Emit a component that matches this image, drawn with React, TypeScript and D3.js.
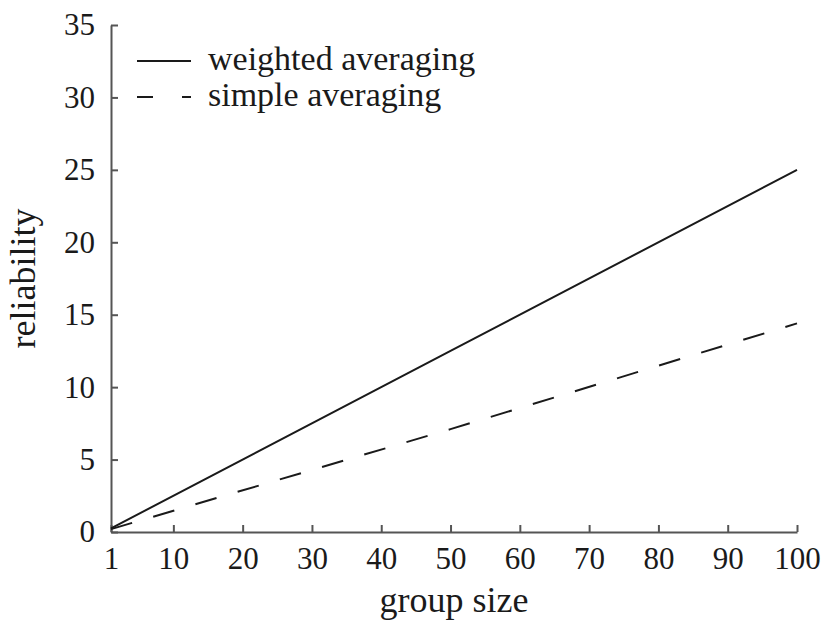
import React, { useRef, useEffect } from 'react';
import * as d3 from 'd3';

// values
const groupSize = [1, 50, 100];
const weightedAveraging = [0.25, 12.5, 25];
const simpleAveraging = [0.2, 7.1, 14.4];
const xTicks = [1, 10, 20, 30, 40, 50, 60, 70, 80, 90, 100];
const yTicks = [0, 5, 10, 15, 20, 25, 30, 35];
const legendLabels = ['weighted averaging', 'simple averaging'];

const W = 824;
const H = 623;
const FONT = '"Liberation Serif", "Times New Roman", serif';

const App = () => {
  const svgRef = useRef<SVGSVGElement>(null);

  useEffect(() => {
    const svg = d3.select(svgRef.current);
    svg.selectAll('*').remove();

    const x = d3.scaleLinear().domain([1, 100]).range([111, 797]);
    const y = d3.scaleLinear().domain([0, 35]).range([532, 25]);
    const axisColor = '#555';
    const lineColor = '#1a1a1a';

    // axes (ticks point inward)
    const xAxis = svg.append('g').attr('transform', `translate(0,${y(0)})`)
      .call(d3.axisBottom(x).tickValues(xTicks).tickSizeInner(-7).tickSizeOuter(0).tickPadding(15));
    const yAxis = svg.append('g').attr('transform', `translate(${x(1)},0)`)
      .call(d3.axisLeft(y).tickValues(yTicks).tickSizeInner(-7).tickSizeOuter(0).tickPadding(16));

    [xAxis, yAxis].forEach((g) => {
      g.select('.domain').attr('stroke', axisColor).attr('stroke-width', 2);
      g.selectAll('.tick line').attr('stroke', axisColor).attr('stroke-width', 2);
      g.selectAll('.tick text')
        .attr('fill', '#1a1a1a')
        .style('font-family', FONT)
        .style('font-size', '31px');
    });
    xAxis.selectAll('.tick text').attr('dy', '0.71em');

    const idx = d3.range(groupSize.length);
    const line = (vals: number[]) =>
      d3.line<number>().x((i) => x(groupSize[i])).y((i) => y(vals[i]))(idx);

    svg.append('path')
      .attr('d', line(weightedAveraging))
      .attr('fill', 'none')
      .attr('stroke', lineColor)
      .attr('stroke-width', 2);

    svg.append('path')
      .attr('d', line(simpleAveraging))
      .attr('fill', 'none')
      .attr('stroke', lineColor)
      .attr('stroke-width', 2)
      .attr('stroke-dasharray', '22,22');

    // legend
    const legendY = [61, 97];
    legendLabels.forEach((label, i) => {
      svg.append('line')
        .attr('x1', 137).attr('x2', 191)
        .attr('y1', legendY[i]).attr('y2', legendY[i])
        .attr('stroke', lineColor)
        .attr('stroke-width', 2)
        .attr('stroke-dasharray', i === 1 ? '16,29' : null);
      svg.append('text')
        .attr('x', 208)
        .attr('y', legendY[i] + 9)
        .attr('fill', '#1a1a1a')
        .style('font-family', FONT)
        .style('font-size', '34px')
        .text(label);
    });

    // axis titles
    svg.append('text')
      .attr('x', (x(1) + x(100)) / 2)
      .attr('y', 612)
      .attr('text-anchor', 'middle')
      .attr('fill', '#1a1a1a')
      .style('font-family', FONT)
      .style('font-size', '36px')
      .text('group size');

    svg.append('text')
      .attr('transform', `translate(35,${(y(0) + y(35)) / 2}) rotate(-90)`)
      .attr('text-anchor', 'middle')
      .attr('fill', '#1a1a1a')
      .style('font-family', FONT)
      .style('font-size', '36px')
      .text('reliability');
  }, []);

  return (
    <div style={{ position: 'absolute', left: 0, top: 0 }}>
      <svg ref={svgRef} width={W} height={H} style={{ display: 'block', background: '#fff' }} />
    </div>
  );
};

export default App;
